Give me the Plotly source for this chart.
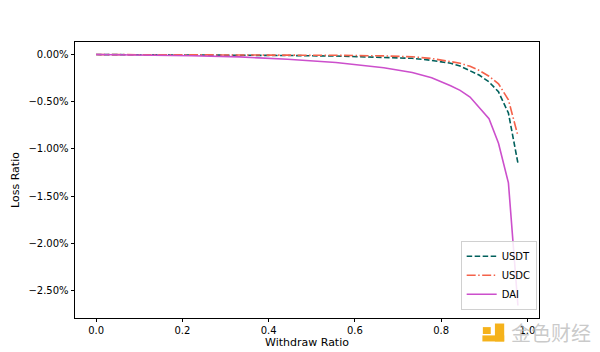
import plotly.graph_objects as go

# ---- data ----
withdraw_ratio = [0.0, 0.111, 0.222, 0.333, 0.444, 0.556, 0.667, 0.733, 0.778,
                  0.822, 0.844, 0.867, 0.889, 0.911, 0.933, 0.956, 0.978]
usdt_loss = [0.0, -0.001, -0.003, -0.006, -0.010, -0.016, -0.028, -0.040, -0.062,
             -0.092, -0.122, -0.168, -0.220, -0.290, -0.395, -0.620, -1.150]
usdc_loss = [0.0, 0.0, -0.001, -0.002, -0.004, -0.008, -0.014, -0.024, -0.042,
             -0.070, -0.092, -0.125, -0.170, -0.230, -0.310, -0.480, -0.860]
dai_loss = [0.0, -0.005, -0.012, -0.025, -0.050, -0.085, -0.140, -0.190, -0.245,
            -0.330, -0.380, -0.450, -0.560, -0.680, -0.940, -1.360, -2.660]

x_tickvals = [0.0, 0.2, 0.4, 0.6, 0.8, 1.0]
x_ticktext = ["0.0", "0.2", "0.4", "0.6", "0.8", "1.0"]
y_tickvals = [0.0, -0.5, -1.0, -1.5, -2.0, -2.5]
y_ticktext = ["0.00%", "\u22120.50%", "\u22121.00%", "\u22121.50%", "\u22122.00%", "\u22122.50%"]

FONT = "DejaVu Sans"

fig = go.Figure()
fig.add_trace(go.Scatter(x=withdraw_ratio, y=usdt_loss, name="USDT", mode="lines",
                         line=dict(color="#00605c", width=1.6, dash="5.5px,2.5px")))
fig.add_trace(go.Scatter(x=withdraw_ratio, y=usdc_loss, name="USDC", mode="lines",
                         line=dict(color="#f4624a", width=1.6, dash="9px,2.5px,1.5px,2.5px")))
fig.add_trace(go.Scatter(x=withdraw_ratio, y=dai_loss, name="DAI", mode="lines",
                         line=dict(color="#cc4fcc", width=1.6)))

xmin, xmax = min(withdraw_ratio), max(withdraw_ratio)
ymin = min(min(usdt_loss), min(usdc_loss), min(dai_loss))
ymax = max(max(usdt_loss), max(usdc_loss), max(dai_loss))
xpad = 0.05 * (xmax - xmin)
ypad = 0.05 * (ymax - ymin)

axis_common = dict(showline=True, linecolor="black", linewidth=0.8, mirror=True,
                   ticks="outside", ticklen=3.5, tickwidth=0.8, tickcolor="black",
                   showgrid=False, zeroline=False, automargin=False,
                   tickfont=dict(family=FONT, size=10, color="black"))

fig.update_xaxes(range=[xmin - xpad, xmax + xpad], tickvals=x_tickvals, ticktext=x_ticktext,
                 title=dict(text="Withdraw Ratio", font=dict(family=FONT, size=11, color="black"),
                            standoff=2),
                 **axis_common)
fig.update_yaxes(range=[ymin - ypad, ymax + ypad], tickvals=y_tickvals, ticktext=y_ticktext,
                 title=dict(text="Loss Ratio", font=dict(family=FONT, size=11, color="black"),
                            standoff=6),
                 **axis_common)

fig.update_layout(
    width=600, height=352,
    margin=dict(l=75, r=61, t=42, b=34),
    paper_bgcolor="white", plot_bgcolor="white",
    font=dict(family=FONT, size=10, color="black"),
    legend=dict(x=0.995, y=0.03, xanchor="right", yanchor="bottom",
                bgcolor="rgba(255,255,255,0.85)", bordercolor="#d0d0d0", borderwidth=1,
                font=dict(family=FONT, size=10, color="black"),
                tracegroupgap=0, itemwidth=30),
    showlegend=True,
)

# watermark (金色财经): logo + text
logo = "#f5b21b"
fig.add_shape(type="rect", xref="paper", yref="paper", x0=0.905, x1=0.925, y0=-0.085, y1=-0.02,
              fillcolor=logo, line=dict(width=0), layer="above")
fig.add_shape(type="rect", xref="paper", yref="paper", x0=0.878, x1=0.925, y0=-0.085, y1=-0.063,
              fillcolor=logo, line=dict(width=0), layer="above")
fig.add_shape(type="rect", xref="paper", yref="paper", x0=0.879, x1=0.896, y0=-0.058, y1=-0.033,
              fillcolor=logo, line=dict(width=0), layer="above")
fig.add_annotation(text="金色财经", xref="paper", yref="paper", x=1.117, y=-0.052,
                   xanchor="right", yanchor="middle", showarrow=False,
                   font=dict(family="Noto Sans CJK SC", size=20, color="rgba(185,185,185,0.75)"))

fig.write_html("out.html")
